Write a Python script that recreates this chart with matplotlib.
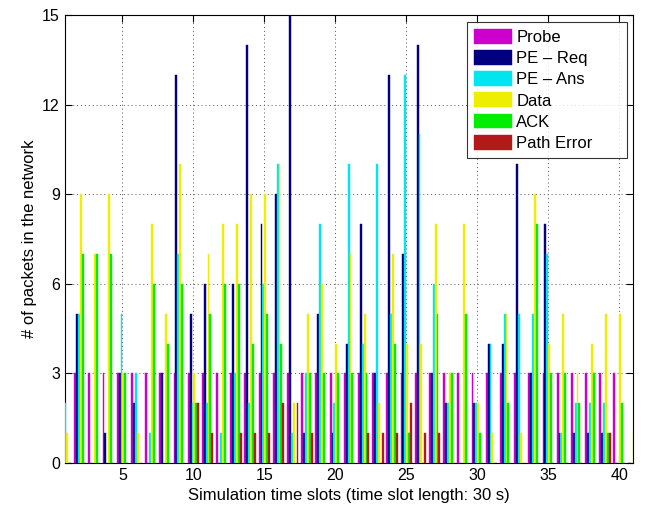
import numpy as np
import matplotlib
matplotlib.use('Agg')
import matplotlib.pyplot as plt

plt.rcParams['font.family'] = ['Liberation Sans', 'DejaVu Sans']

# time slots 1..41
slots = np.arange(1, 42)

probe = [0, 3, 3, 3, 3, 3, 3, 3, 3, 3, 3, 3, 3, 3, 3, 3, 3, 3, 3, 3,
         3, 3, 3, 3, 3, 3, 3, 3, 3, 3, 3, 3, 3, 3, 3, 3, 3, 3, 3, 3, 0]
pe_req = [0, 5, 0, 1, 3, 2, 0, 3, 13, 5, 6, 0, 6, 14, 8, 9, 15, 1, 5, 1,
          4, 8, 3, 13, 7, 14, 3, 2, 0, 2, 4, 4, 10, 3, 8, 1, 1, 1, 1, 0, 0]
pe_ans = [2, 5, 0, 0, 5, 3, 1, 0, 7, 2, 2, 1, 3, 2, 6, 10, 1, 3, 8, 2,
          10, 4, 10, 5, 13, 11, 6, 2, 0, 2, 4, 5, 5, 5, 7, 1, 2, 2, 2, 0, 0]
data = [1, 9, 7, 9, 3, 1, 8, 5, 10, 3, 7, 8, 8, 9, 9, 10, 2, 5, 6, 4,
        7, 5, 2, 7, 4, 4, 8, 3, 8, 2, 1, 5, 1, 9, 4, 5, 3, 4, 5, 5, 1]
ack = [0, 7, 7, 7, 3, 0, 6, 4, 6, 2, 5, 6, 6, 4, 5, 4, 0, 3, 3, 3,
       3, 3, 0, 4, 1, 0, 5, 3, 5, 1, 0, 2, 0, 8, 3, 3, 2, 3, 1, 2, 0]
path_err = [0, 0, 0, 0, 0, 0, 0, 0, 0, 2, 1, 0, 1, 1, 1, 2, 2, 1, 0, 0,
            0, 1, 1, 1, 2, 1, 1, 0, 0, 0, 0, 0, 0, 0, 0, 0, 0, 0, 1, 0, 0]

series = [probe, pe_req, pe_ans, data, ack, path_err]
names = ['Probe', 'PE – Req', 'PE – Ans', 'Data', 'ACK', 'Path Error']
colors = ['#CC00CC', '#000080', '#00E5EE', '#EEEE00', '#00EE00', '#B21A1A']

fig = plt.figure(figsize=(6.45, 5.12), dpi=100)
ax = fig.add_axes([0.1003, 0.0957, 0.8816, 0.875])

n = len(series)
group_w = 0.8
w = group_w / n
for i, (vals, name, c) in enumerate(zip(series, names, colors)):
    offs = -group_w / 2 + w * (i + 0.5)
    ax.bar(slots + offs, vals, width=w, color=c, edgecolor=c,
           linewidth=0.3, label=name, zorder=3)

ax.set_xlim(0.93, 41)
ax.set_ylim(0, 15)
ax.set_xticks([5, 10, 15, 20, 25, 30, 35, 40])
ax.set_yticks([0, 3, 6, 9, 12, 15])
ax.grid(True, linestyle=(0, (1, 3)), color='#555555', linewidth=0.7, zorder=0)
ax.tick_params(direction='in', top=True, right=True, labelsize=11.5, length=5)
for s in ax.spines.values():
    s.set_linewidth(0.8)

ax.set_xlabel('Simulation time slots (time slot length: 30 s)', fontsize=12, labelpad=4)
ax.set_ylabel('# of packets in the network', fontsize=12, labelpad=4)

# legend box stretched to a fixed width, with the entries left-aligned
leg = ax.legend(loc='upper left', mode='expand', fontsize=12, frameon=True,
                fancybox=False, edgecolor='black', handlelength=2.3,
                handleheight=1.0, labelspacing=0.3, borderpad=0.4,
                handletextpad=0.25, borderaxespad=0,
                bbox_to_anchor=(0.7075, 0.0, 0.2814, 0.984))
leg.get_frame().set_linewidth(0.8)

fig.savefig('out.png', dpi=100)
